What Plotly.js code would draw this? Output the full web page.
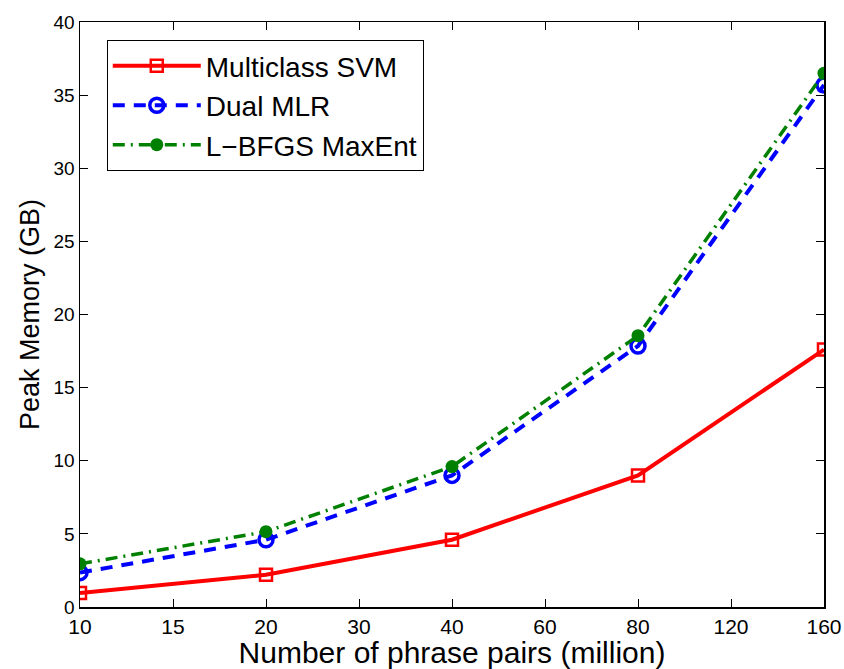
<!DOCTYPE html>
<html>
<head>
<meta charset="utf-8">
<script src="https://cdn.plot.ly/plotly-3.0.1.min.js"></script>
<style>html,body{margin:0;padding:0;background:#fff;}#chart{width:844px;height:669px;}</style>
</head>
<body>
<div id="chart"></div>
<script>
var pairs = [10, 20, 40, 80, 160];
var svm = [0.96, 2.2, 4.6, 9.0, 17.6];
var dualMLR = [2.35, 4.6, 9.0, 17.85, 35.7];
var lbfgs = [2.95, 5.15, 9.6, 18.55, 36.5];
var xTickVals = [10, 14.142, 20, 28.284, 40, 56.569, 80, 113.137, 160];
var xTickText = ["10", "15", "20", "30", "40", "60", "80", "120", "160"];
var yTickVals = [0, 5, 10, 15, 20, 25, 30, 35, 40];

var traces = [
  {x: pairs, y: svm, name: "Multiclass SVM", mode: "lines+markers",
   line: {color: "#ff0000", width: 4, dash: "solid"},
   marker: {symbol: "square-open", size: 12, color: "#ff0000", line: {width: 2.5, color: "#ff0000"}}},
  {x: pairs, y: dualMLR, name: "Dual MLR", mode: "lines+markers",
   line: {color: "#0000ff", width: 4, dash: "12px,9px"},
   marker: {symbol: "circle-open", size: 14, color: "#0000ff", line: {width: 3.5, color: "#0000ff"}}},
  {x: pairs, y: lbfgs, name: "L\u2212BFGS MaxEnt", mode: "lines+markers",
   line: {color: "#008000", width: 3.5, dash: "12px,6px,2px,6px"},
   marker: {symbol: "circle", size: 13, color: "#008000"}}
];

var layout = {
  width: 844, height: 669,
  margin: {l: 80, r: 20, t: 22, b: 62},
  paper_bgcolor: "#fff", plot_bgcolor: "#fff",
  font: {family: "Liberation Sans, Arial, sans-serif", color: "#000"},
  showlegend: true,
  legend: {x: 0.036, y: 0.969, xanchor: "left", yanchor: "top",
    bgcolor: "#fff", bordercolor: "#000", borderwidth: 1,
    font: {size: 28, family: "Liberation Sans, Arial, sans-serif"},
    tracegroupgap: 0, itemwidth: 88},
  xaxis: {type: "log", range: [Math.log10(10), Math.log10(160)],
    tickmode: "array", tickvals: xTickVals, ticktext: xTickText,
    ticks: "inside", ticklen: 8, tickwidth: 1, tickcolor: "#000",
    showline: true, linecolor: "#000", linewidth: 1.5, mirror: "ticks",
    showgrid: false, zeroline: false,
    tickfont: {size: 21, family: "Liberation Sans Narrow, Liberation Sans, Arial, sans-serif"},
    title: {text: "Number of phrase pairs (million)", font: {size: 30, family: "Liberation Sans Narrow, Liberation Sans, Arial, sans-serif"}, standoff: 2}},
  yaxis: {range: [0, 40], tickmode: "array", tickvals: yTickVals,
    ticks: "inside", ticklen: 8, tickwidth: 1, tickcolor: "#000",
    showline: true, linecolor: "#000", linewidth: 1.5, mirror: "ticks",
    showgrid: false, zeroline: false,
    tickfont: {size: 19},
    title: {text: "Peak Memory (GB)", font: {size: 27}, standoff: 6}}
};

Plotly.newPlot("chart", traces, layout, {displayModeBar: false, staticPlot: true});
</script>
</body>
</html>
